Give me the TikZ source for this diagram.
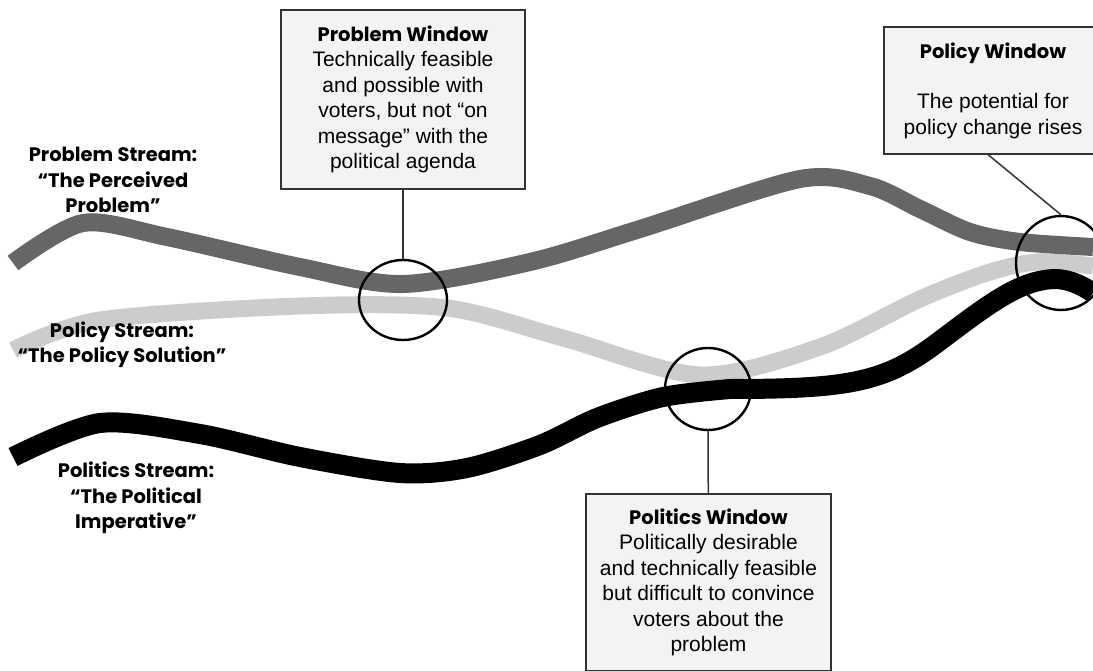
\documentclass[tikz,border=0pt]{standalone}
\usepackage{fontspec}
\setmainfont{Liberation Sans}
\newfontfamily\roundfont{Poppins}
\usetikzlibrary{shapes.geometric}

\definecolor{probgray}{HTML}{666666}
\definecolor{polgray}{HTML}{CCCCCC}
\definecolor{boxfill}{HTML}{F3F3F3}
\definecolor{boxline}{HTML}{333333}

\newcommand{\wintitle}[1]{{\roundfont\bfseries\fontsize{19.5}{25.5}\selectfont #1}}

\begin{document}
\begin{tikzpicture}[x=1pt, y=-1pt,
    stream/.style = {line width=#1},
    window/.style = {draw=boxline, line width=1.2pt, fill=boxfill, align=center,
                     inner sep=0pt, font=\fontsize{21}{25.5}\selectfont},
    ring/.style = {draw, ellipse, line width=2.4pt, inner sep=0pt},
    link/.style = {draw=boxline, line width=1.5pt},
    streamname/.style = {align=center, font=\roundfont\bfseries\fontsize{19.5}{25.5}\selectfont}]
    \useasboundingbox (0,0) rectangle (1093,671);

    % the three streams
    \draw[stream=17pt, polgray] plot[smooth] coordinates {(13,350) (100,320) (300,306)
        (447,308) (563,338) (700,375) (820,347) (920,299) (987,273) (1037,262) (1093,266)};
    \draw[stream=18pt, probgray] plot[smooth] coordinates {(13,263) (83,223) (167,237)
        (300,267) (403,284) (530,262) (640,229) (800,179) (870,186) (920,209) (970,232)
        (1020,242) (1093,247)};
    \draw[stream=20pt, black] plot[smooth] coordinates {(13,457) (100,423) (200,434)
        (300,457) (400,473) (467,468) (540,445) (597,418) (663,397) (730,389)}
        .. controls (850,389) and (885,382) .. (937,343)
        .. controls (990,303) and (1020,280) .. (1055,279)
        .. controls (1070,279) and (1085,287) .. (1093,293);

    % stream names
    \node[streamname] (probname) at (113,180) {Problem Stream:\\“The Perceived\\Problem”};
    \node[streamname] (polname) at (122,345) {Policy Stream:\\“The Policy Solution”};
    \node[streamname] (poliname) at (136,498) {Politics Stream:\\“The Political\\Imperative”};

    % windows
    \node[ring, minimum width=88, minimum height=80] (probring) at (403,300) {};
    \node[ring, minimum width=86, minimum height=82] (poliring) at (708,389) {};
    \node[ring, minimum width=90, minimum height=94] (polring) at (1061,263) {};

    \node[window, minimum width=244, minimum height=179] (probbox) at (403,99.5)
        {\wintitle{Problem Window}\\Technically feasible\\and possible with\\
         voters, but not “on\\message” with the\\political agenda};
    \node[window, minimum width=218, minimum height=127] (polbox) at (993,90.5)
        {\wintitle{Policy Window}\\[25pt]The potential for\\policy change rises};
    \node[window, minimum width=245, minimum height=177] (polibox) at (708.5,582.5)
        {\wintitle{Politics Window}\\Politically desirable\\and technically feasible\\
         but difficult to convince\\voters about the\\problem};

    \draw[link] (probbox) -- (probring);
    \draw[link] (poliring) -- (polibox);
    \draw[link] (polbox.south -| 988,0) -- (polring.north);
\end{tikzpicture}
\end{document}
